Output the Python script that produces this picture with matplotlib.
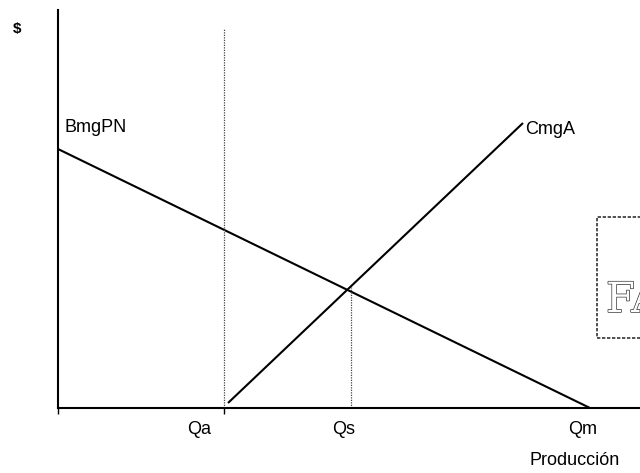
import matplotlib.pyplot as plt
import matplotlib.patheffects as pe
from matplotlib.patches import Rectangle

plt.rcParams["font.family"] = ["Liberation Sans", "DejaVu Sans"]

# ── Values (units: 10 px of the original) ──────────────────────────────────
bmg_x = [0.0, 53.2]        # BmgPN: intercept on $ axis down to Qm
bmg_y = [25.9, 0.0]
cmg_x = [17.0, 46.5]       # CmgA: rises from just past Qa
cmg_y = [0.5, 28.5]
q_names = ["Qa", "Qs", "Qm"]
q_vals = [16.6, 29.3, 53.2]
qa_top = 37.9              # dotted line at Qa runs almost to the top
qs_top = 12.1              # dotted line at Qs stops at the crossing

fig = plt.figure(figsize=(6.4, 4.73), dpi=100)
ax = fig.add_axes([58 / 640, 65 / 473, 582 / 640, 398 / 473])
ax.set_xlim(0, 58.2)
ax.set_ylim(0, 39.8)

ax.plot(bmg_x, bmg_y, color="black", lw=1.5, solid_capstyle="butt")
ax.plot(cmg_x, cmg_y, color="black", lw=1.5, solid_capstyle="butt")

ax.plot([q_vals[0], q_vals[0]], [0, qa_top], color="#444444", lw=0.9,
        ls=(0, (1, 1)))
ax.plot([q_vals[1], q_vals[1]], [0, qs_top], color="#444444", lw=0.9,
        ls=(0, (1, 1)))

# curve labels
ax.text(bmg_x[0] + 0.7, bmg_y[0] + 2.2, "BmgPN", fontsize=13, va="center")
ax.text(cmg_x[1] + 0.2, cmg_y[1] - 0.7, "CmgA", fontsize=13, va="center")

# quantity labels under the axis
label_dx = [-2.5, -0.7, -0.7]
for name, q, dx in zip(q_names, q_vals, label_dx):
    ax.text(q + dx, -2.1, name, fontsize=13, ha="center", va="center")
ax.text(51.7, -5.2, "Producción", fontsize=13, ha="center", va="center")
ax.text(-4.1, 37.9, "$", fontsize=11, ha="center", va="center",
        fontweight="bold")

# axes: only left and bottom, a couple of small downward ticks
for side in ("top", "right"):
    ax.spines[side].set_visible(False)
for side in ("left", "bottom"):
    ax.spines[side].set_linewidth(1.5)
ax.set_xticks([0, q_vals[0]])
ax.set_xticklabels([])
ax.set_yticks([])
ax.tick_params(axis="x", length=4, width=1.0, direction="out")

# scanned stamp at the right edge (cut off in the original too)
fig.patches.append(Rectangle((597 / 640, 1 - 338 / 473), 0.2, 121 / 473,
                             transform=fig.transFigure, fill=False,
                             edgecolor="#333333", lw=1.2, ls=(0, (2, 1))))
fig.text(606 / 640, 1 - 300 / 473, "FA", fontsize=30, family="DejaVu Serif",
         color="white", va="center", ha="left",
         path_effects=[pe.withStroke(linewidth=1.0, foreground="#333333")])

fig.savefig("out.png", dpi=100)
